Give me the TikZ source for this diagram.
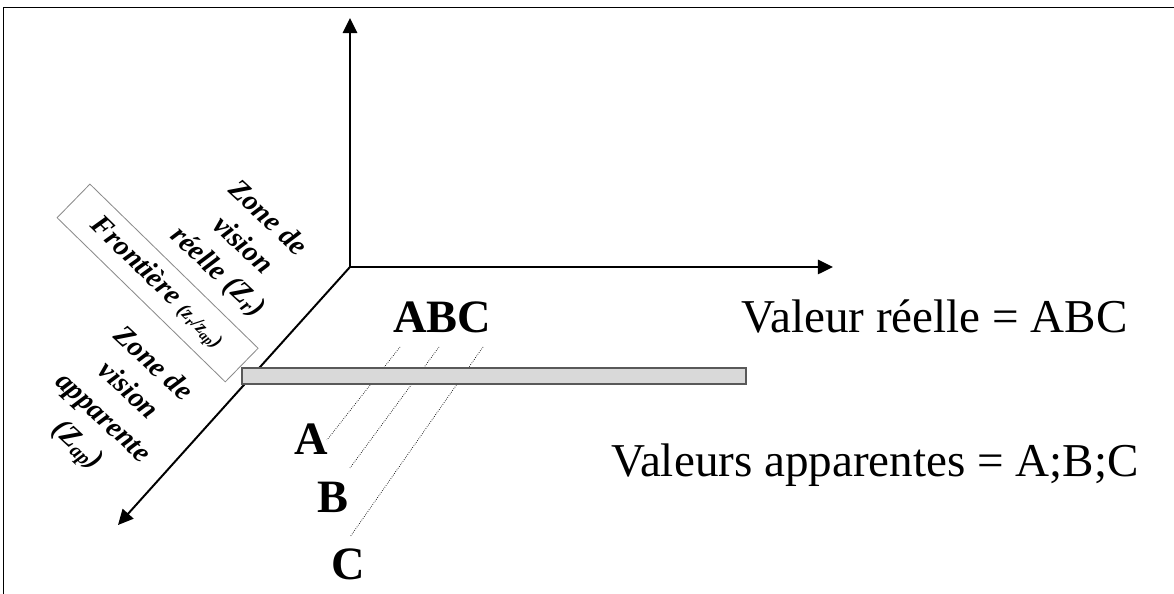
\documentclass[tikz,border=0pt]{standalone}
\usepackage{fontspec}
\setmainfont{Liberation Serif}
\usetikzlibrary{arrows.meta}

\begin{document}
\begin{tikzpicture}[
  axis/.style={line width=1.4pt, -{Triangle[length=3.8mm, width=3.6mm]}},
  zone/.style={font=\bfseries\itshape\fontsize{20.5}{26}\selectfont, align=center,
               rotate=-43, inner sep=0pt},
  limit/.style={draw=black!45, fill=white, line width=0.6pt, rotate=-44.3,
                minimum width=5.875cm, minimum height=1.175cm, inner sep=0pt,
                font=\bfseries\itshape\fontsize{20.5}{24}\selectfont},
  bar/.style={draw=black!65, fill=black!15, line width=0.9pt},
  trace/.style={densely dotted, line width=0.5pt},
  letter/.style={font=\bfseries\fontsize{33}{40}\selectfont, anchor=base, inner sep=0pt},
  value/.style={font=\fontsize{33.5}{40}\selectfont, anchor=base, inner sep=0pt}
]
\useasboundingbox (0,0) rectangle (29.35,14.85);

% frame
\draw[line width=0.7pt] (0.075,0) -- (0.075,14.65) -- (29.35,14.65);

% axes
\coordinate (orig) at (8.75,8.175);
\coordinate (up)   at (8.75,14.4);
\coordinate (xend) at (20.825,8.175);
\coordinate (dend) at (2.95,1.725);
\draw[axis] (orig) -- (up);
\draw[axis] (orig) -- (xend);
\draw[axis] (orig) -- (dend);

% border box and zones
\node[limit] (front) at (3.94,7.775)
  {Fronti\`ere {\fontsize{14}{16}\selectfont(z\textsubscript{r}/z\textsubscript{ap})}};
\node[zone] (zr) at (6.05,8.7) {Zone de\\vision\\r\'eelle (Z\textsubscript{r})};
\node[zone] (zap) at (2.85,4.7) {Zone de\\vision\\apparente\\(Z\textsubscript{ap})};

% letters
\node[letter] (abc) at (11.05,6.525) {ABC};
\node[letter] (la) at (7.775,3.475) {A};
\node[letter] (lb) at (8.325,2.025) {B};
\node[letter] (lc) at (8.7,0.35) {C};

% dotted traces
\coordinate (t1) at (10.0,6.175);
\coordinate (t2) at (10.975,6.175);
\coordinate (t3) at (12.075,6.175);
\coordinate (b1) at (8.175,3.85);
\coordinate (b2) at (8.75,3.15);
\coordinate (b3) at (8.75,1.425);
\draw[trace] (t1) -- (b1);
\draw[trace] (t2) -- (b2);
\draw[trace] (t3) -- (b3);

% bar
\draw[bar] (6.05,5.25) rectangle (18.65,5.65);

% values
\node[value] (real) at (23.36,6.525) {Valeur r\'eelle = ABC};
\node[value] (app) at (21.875,2.925) {Valeurs apparentes = A;B;C};
\end{tikzpicture}
\end{document}
